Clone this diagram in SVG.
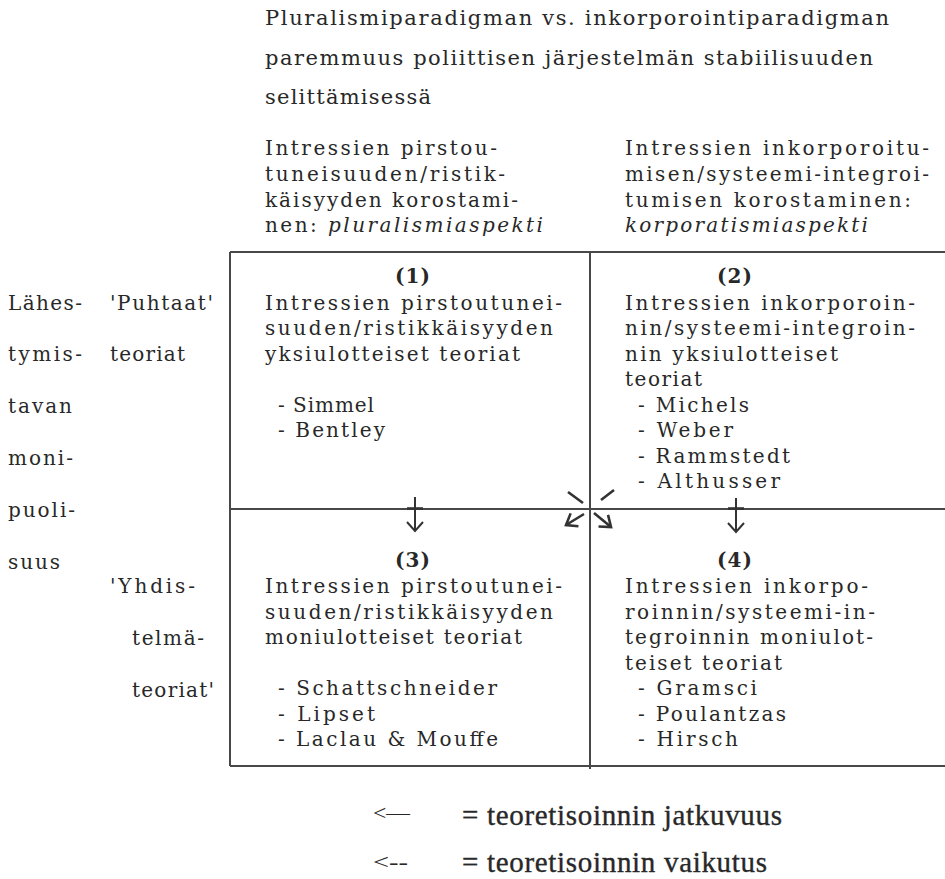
<svg xmlns="http://www.w3.org/2000/svg" width="945" height="879" viewBox="0 0 945 879">
<style>
.bg{fill:#ffffff}
.t{font-family:"DejaVu Serif","Liberation Serif",serif;font-size:20px;fill:#282828}
.it{font-style:italic}
.b{font-weight:bold}
.ti{font-family:"DejaVu Serif","Liberation Serif",serif;font-size:21px;fill:#282828}
.lg{font-family:"Liberation Serif","Times New Roman",serif;font-size:29px;fill:#282828;stroke:#282828;stroke-width:0.35}
.la{font-family:"Liberation Serif","Times New Roman",serif;font-size:20px;fill:#282828}
.grid{stroke:#484848;stroke-width:2;fill:none}
.arr{stroke:#333;stroke-width:2;fill:none}
.darr{stroke:#333;stroke-width:2.6;fill:none}
</style>
<defs>
<marker id="vhead" viewBox="-12 -12 24 24" markerWidth="24" markerHeight="24" markerUnits="userSpaceOnUse" refX="0" refY="0" orient="auto">
<path d="M-9,-8 L0,0 L-9,8" fill="none" stroke="#333" stroke-width="2"/>
</marker>
<marker id="dhead" viewBox="-12 -12 24 24" markerWidth="24" markerHeight="24" markerUnits="userSpaceOnUse" refX="0" refY="0" orient="auto">
<path d="M-10,-7.5 L0,0 L-10,7.5" fill="none" stroke="#333" stroke-width="2.6"/>
</marker>
</defs>
<rect class="bg" x="0" y="0" width="945" height="879"/>

<g id="title">
<text class="ti" x="265" y="25" textLength="624" lengthAdjust="spacing">Pluralismiparadigman vs. inkorporointiparadigman</text>
<text class="ti" x="265" y="64.5" textLength="608" lengthAdjust="spacing">paremmuus poliittisen järjestelmän stabiilisuuden</text>
<text class="ti" x="265" y="104" textLength="166" lengthAdjust="spacing">selittämisessä</text>
</g>

<g id="header-left">
<text class="t" x="265" y="155" textLength="232" lengthAdjust="spacing">Intressien pirstou-</text>
<text class="t" x="265" y="181" textLength="240" lengthAdjust="spacing">tuneisuuden/ristik-</text>
<text class="t" x="265" y="206.5" textLength="253" lengthAdjust="spacing">käisyyden korostami-</text>
<text class="t" x="265" y="232" textLength="278" lengthAdjust="spacing">nen: <tspan class="it">pluralismiaspekti</tspan></text>
</g>

<g id="header-right">
<text class="t" x="625" y="155" textLength="304" lengthAdjust="spacing">Intressien inkorporoitu-</text>
<text class="t" x="625" y="181" textLength="304" lengthAdjust="spacing">misen/systeemi-integroi-</text>
<text class="t" x="625" y="206.5" textLength="286" lengthAdjust="spacing">tumisen korostaminen:</text>
<text class="t it" x="625" y="232" textLength="243" lengthAdjust="spacing">korporatismiaspekti</text>
</g>

<g id="row-labels">
<text class="t" x="8" y="310" textLength="74" lengthAdjust="spacing">Lähes-</text>
<text class="t" x="8" y="361" textLength="74" lengthAdjust="spacing">tymis-</text>
<text class="t" x="8" y="412.5" textLength="64" lengthAdjust="spacing">tavan</text>
<text class="t" x="8" y="464.5" textLength="65" lengthAdjust="spacing">moni-</text>
<text class="t" x="8" y="516.5" textLength="67" lengthAdjust="spacing">puoli-</text>
<text class="t" x="8" y="568.5" textLength="52" lengthAdjust="spacing">suus</text>
<text class="t" x="110" y="310" textLength="103" lengthAdjust="spacing">'Puhtaat'</text>
<text class="t" x="110" y="361" textLength="75" lengthAdjust="spacing">teoriat</text>
<text class="t" x="110" y="593" textLength="85" lengthAdjust="spacing">'Yhdis-</text>
<text class="t" x="132" y="645" textLength="72" lengthAdjust="spacing">telmä-</text>
<text class="t" x="132" y="697" textLength="82" lengthAdjust="spacing">teoriat'</text>
</g>

<g id="grid">
<line class="grid" x1="230" y1="252" x2="945" y2="252"/>
<line class="grid" x1="230" y1="509" x2="945" y2="509"/>
<line class="grid" x1="230" y1="766" x2="945" y2="766"/>
<line class="grid" x1="230" y1="252" x2="230" y2="766"/>
<line class="grid" x1="590" y1="252" x2="590" y2="769"/>
</g>

<g id="box1">
<text class="t b" x="395" y="283" textLength="35" lengthAdjust="spacing">(1)</text>
<text class="t" x="265" y="309.5" textLength="297" lengthAdjust="spacing">Intressien pirstoutunei-</text>
<text class="t" x="265" y="335" textLength="288" lengthAdjust="spacing">suuden/ristikkäisyyden</text>
<text class="t" x="265" y="360.5" textLength="255" lengthAdjust="spacing">yksiulotteiset teoriat</text>
<text class="t" x="278" y="411.5" textLength="96" lengthAdjust="spacing">- Simmel</text>
<text class="t" x="278" y="437" textLength="107" lengthAdjust="spacing">- Bentley</text>
</g>

<g id="box2">
<text class="t b" x="717" y="283" textLength="35" lengthAdjust="spacing">(2)</text>
<text class="t" x="625" y="309.5" textLength="290" lengthAdjust="spacing">Intressien inkorporoin-</text>
<text class="t" x="625" y="335" textLength="290" lengthAdjust="spacing">nin/systeemi-integroin-</text>
<text class="t" x="625" y="360.5" textLength="213" lengthAdjust="spacing">nin yksiulotteiset</text>
<text class="t" x="625" y="386" textLength="77" lengthAdjust="spacing">teoriat</text>
<text class="t" x="638" y="411.5" textLength="111" lengthAdjust="spacing">- Michels</text>
<text class="t" x="638" y="437" textLength="95" lengthAdjust="spacing">- Weber</text>
<text class="t" x="638" y="462.5" textLength="152" lengthAdjust="spacing">- Rammstedt</text>
<text class="t" x="638" y="488" textLength="142" lengthAdjust="spacing">- Althusser</text>
</g>

<g id="box3">
<text class="t b" x="395" y="567" textLength="35" lengthAdjust="spacing">(3)</text>
<text class="t" x="265" y="593" textLength="297" lengthAdjust="spacing">Intressien pirstoutunei-</text>
<text class="t" x="265" y="618.5" textLength="288" lengthAdjust="spacing">suuden/ristikkäisyyden</text>
<text class="t" x="265" y="644" textLength="257" lengthAdjust="spacing">moniulotteiset teoriat</text>
<text class="t" x="278" y="695" textLength="219" lengthAdjust="spacing">- Schattschneider</text>
<text class="t" x="278" y="720.5" textLength="97" lengthAdjust="spacing">- Lipset</text>
<text class="t" x="278" y="746" textLength="220" lengthAdjust="spacing">- Laclau &amp; Mouffe</text>
</g>

<g id="box4">
<text class="t b" x="717" y="567" textLength="35" lengthAdjust="spacing">(4)</text>
<text class="t" x="625" y="593" textLength="243" lengthAdjust="spacing">Intressien inkorpo-</text>
<text class="t" x="625" y="618.5" textLength="250" lengthAdjust="spacing">roinnin/systeemi-in-</text>
<text class="t" x="625" y="644" textLength="248" lengthAdjust="spacing">tegroinnin moniulot-</text>
<text class="t" x="625" y="669.5" textLength="157" lengthAdjust="spacing">teiset teoriat</text>
<text class="t" x="638" y="695" textLength="119" lengthAdjust="spacing">- Gramsci</text>
<text class="t" x="638" y="720.5" textLength="148" lengthAdjust="spacing">- Poulantzas</text>
<text class="t" x="638" y="746" textLength="100" lengthAdjust="spacing">- Hirsch</text>
</g>

<g id="connectors">
<line class="arr" x1="415" y1="497" x2="415" y2="531" marker-end="url(#vhead)"/>
<line class="darr" x1="407" y1="508.5" x2="423" y2="508.5"/>
<line class="arr" x1="736" y1="498" x2="736" y2="532" marker-end="url(#vhead)"/>
<line class="darr" x1="728" y1="508.5" x2="744" y2="508.5"/>
<path class="darr" d="M568,492 L583,503 M594,513 L611,527" marker-end="url(#dhead)"/>
<path class="darr" d="M614,490 L601,500 M584,514 L566,525" marker-end="url(#dhead)"/>
</g>

<g id="legend">
<text class="la" x="373" y="820" textLength="37" lengthAdjust="spacingAndGlyphs">&lt;—</text>
<text class="lg" x="462" y="825" textLength="320" lengthAdjust="spacing">= teoretisoinnin  jatkuvuus</text>
<text class="la" x="373" y="869" textLength="35" lengthAdjust="spacingAndGlyphs">&lt;--</text>
<text class="lg" x="462" y="872" textLength="305" lengthAdjust="spacing">= teoretisoinnin  vaikutus</text>
</g>
</svg>
